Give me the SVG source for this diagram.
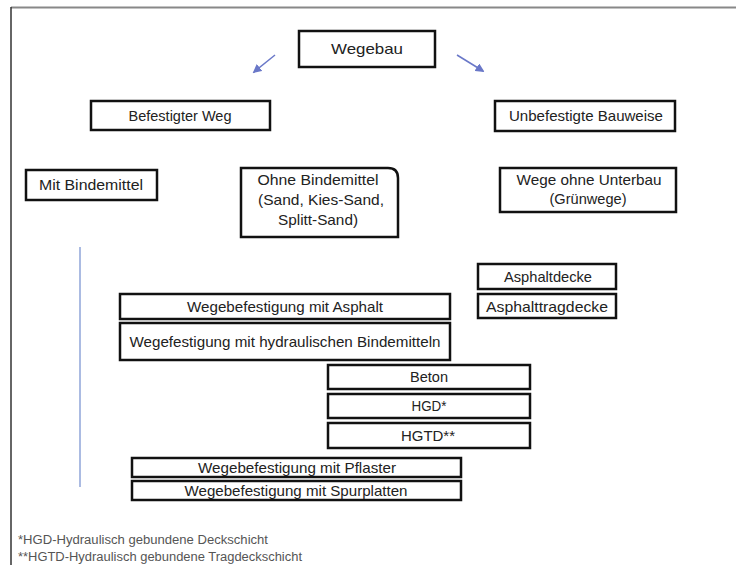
<svg xmlns="http://www.w3.org/2000/svg" width="736" height="565" viewBox="0 0 736 565">
<style>
.b{fill:#fff;stroke:#111;stroke-width:2.5}
.t{font-family:"Liberation Sans",Arial,sans-serif;font-size:15px;fill:#222;text-anchor:middle}
.f{font-family:"Liberation Sans",Arial,sans-serif;font-size:12px;fill:#555}
.c{stroke:#6a78c8;stroke-width:1.5;fill:none}
</style>
<defs>
<marker id="ah" viewBox="0 0 10 10" refX="8" refY="5" markerWidth="6" markerHeight="6" orient="auto">
<path d="M0,0 L10,5 L0,10 z" fill="#6a78c8"/>
</marker>
</defs>
<rect width="736" height="565" fill="#fff"/>
<g id="frame">
<line x1="11" y1="7.5" x2="736" y2="7.5" stroke="#888" stroke-width="2"/>
<line x1="11" y1="7" x2="11" y2="565" stroke="#333" stroke-width="1.5"/>
</g>
<g id="connectors">
<line class="c" x1="275" y1="55" x2="254" y2="72" marker-end="url(#ah)"/>
<line class="c" x1="457" y1="55" x2="483" y2="71" marker-end="url(#ah)"/>
<line x1="80" y1="247" x2="80" y2="487" stroke="#8fa4d8" stroke-width="1.5"/>
</g>
<g id="wegebau"><rect class="b" x="299" y="31" width="136" height="36"/><text class="t" x="367" y="54" textLength="72" lengthAdjust="spacingAndGlyphs">Wegebau</text></g>
<g id="befestigter"><rect class="b" x="91" y="101" width="179" height="29"/><text class="t" x="180" y="121" textLength="103" lengthAdjust="spacingAndGlyphs">Befestigter Weg</text></g>
<g id="unbefestigte"><rect class="b" x="495" y="101" width="180" height="30"/><text class="t" x="586" y="121" textLength="154" lengthAdjust="spacingAndGlyphs">Unbefestigte Bauweise</text></g>
<g id="mit"><rect class="b" x="26" y="170" width="131" height="30"/><text class="t" x="91" y="190" textLength="104" lengthAdjust="spacingAndGlyphs">Mit Bindemittel</text></g>
<g id="ohne"><path class="b" d="M241,168 H388 Q398,168 398,178 V237 H241 Z"/><text class="t" x="318" y="185" textLength="121" lengthAdjust="spacingAndGlyphs">Ohne Bindemittel</text><text class="t" x="321" y="205" textLength="126" lengthAdjust="spacingAndGlyphs">(Sand, Kies-Sand,</text><text class="t" x="318" y="225" textLength="80" lengthAdjust="spacingAndGlyphs">Splitt-Sand)</text></g>
<g id="wege-ohne"><rect class="b" x="500" y="168" width="176" height="44"/><text class="t" x="589" y="185" textLength="145" lengthAdjust="spacingAndGlyphs">Wege ohne Unterbau</text><text class="t" x="588" y="204" textLength="77" lengthAdjust="spacingAndGlyphs">(Grünwege)</text></g>
<g id="asphaltdecke"><rect class="b" x="478" y="264" width="138" height="25"/><text class="t" x="548" y="282" textLength="88" lengthAdjust="spacingAndGlyphs">Asphaltdecke</text></g>
<g id="asphalttragdecke"><rect class="b" x="478" y="294" width="138" height="24"/><text class="t" x="547" y="312" textLength="122" lengthAdjust="spacingAndGlyphs">Asphalttragdecke</text></g>
<g id="mit-asphalt"><rect class="b" x="120" y="294" width="330" height="25"/><text class="t" x="285" y="312" textLength="196" lengthAdjust="spacingAndGlyphs">Wegebefestigung mit Asphalt</text></g>
<g id="hydraulisch"><rect class="b" x="120" y="323" width="330" height="37"/><text class="t" x="285" y="347" textLength="311" lengthAdjust="spacingAndGlyphs">Wegefestigung mit hydraulischen Bindemitteln</text></g>
<g id="beton"><rect class="b" x="328" y="365" width="202" height="24"/><text class="t" x="429" y="382" textLength="38" lengthAdjust="spacingAndGlyphs">Beton</text></g>
<g id="hgd"><rect class="b" x="328" y="394" width="202" height="24"/><text class="t" x="429" y="411" textLength="35" lengthAdjust="spacingAndGlyphs">HGD*</text></g>
<g id="hgtd"><rect class="b" x="328" y="423" width="202" height="25"/><text class="t" x="428" y="441" textLength="54" lengthAdjust="spacingAndGlyphs">HGTD**</text></g>
<g id="pflaster"><rect class="b" x="132" y="458" width="329" height="19"/><text class="t" x="297" y="473" textLength="198" lengthAdjust="spacingAndGlyphs">Wegebefestigung mit Pflaster</text></g>
<g id="spurplatten"><rect class="b" x="132" y="481" width="329" height="19"/><text class="t" x="296" y="496" textLength="223" lengthAdjust="spacingAndGlyphs">Wegebefestigung mit Spurplatten</text></g>
<g id="footnotes">
<text class="f" x="18" y="544" textLength="250" lengthAdjust="spacingAndGlyphs">*HGD-Hydraulisch gebundene Deckschicht</text>
<text class="f" x="18" y="561" textLength="284" lengthAdjust="spacingAndGlyphs">**HGTD-Hydraulisch gebundene Tragdeckschicht</text>
</g>
</svg>
